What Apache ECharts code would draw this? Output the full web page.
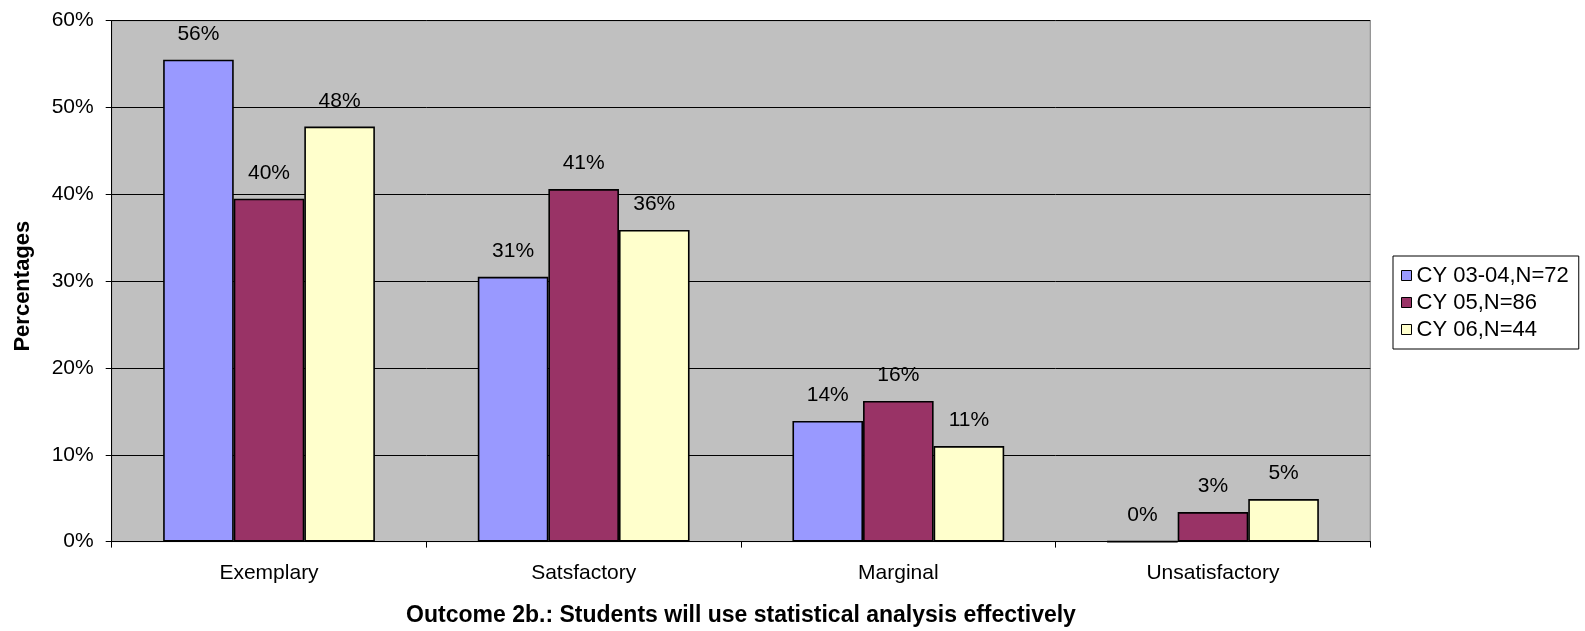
<!DOCTYPE html>
<html>
<head>
<meta charset="utf-8">
<script src="https://cdn.jsdelivr.net/npm/echarts@6/dist/echarts.min.js"></script>
<style>
  html, body { margin: 0; padding: 0; background: #ffffff; }
  #chart { width: 1585px; height: 631px; }
</style>
</head>
<body>
<div id="chart"></div>
<script>
// Rating categories along the x axis
const categories = ['Exemplary', 'Satsfactory', 'Marginal', 'Unsatisfactory'];

// Share of students (percent) in each rating, per cohort
const cohortNames = ['CY 03-04,N=72', 'CY 05,N=86', 'CY 06,N=44'];
const cy0304 = [55.5, 30.5, 13.9, 0];
const cy05 = [39.5, 40.6, 16.2, 3.4];
const cy06 = [47.8, 35.9, 11.0, 4.9];

// Y axis range and step (percent)
const yMin = 0;
const yMax = 60;
const yStep = 10;

const colors = ['#9999FF', '#993366', '#FFFFCC'];
const font = 'Arial, "Liberation Sans", sans-serif';

const chart = echarts.init(document.getElementById('chart'), null, { renderer: 'canvas' });

function makeSeries(name, values, color) {
  return {
    name: name,
    type: 'bar',
    data: values,
    barGap: '0%',
    barCategoryGap: '32.7%',
    itemStyle: { color: color, borderColor: '#000000', borderWidth: 1.6 },
    label: {
      show: true,
      position: 'top',
      distance: 15,
      color: '#000000',
      fontFamily: font,
      fontSize: 21,
      formatter: p => Math.round(p.value) + '%'
    },
    emphasis: { disabled: true }
  };
}

chart.setOption({
  animation: false,
  textStyle: { fontFamily: font },
  grid: {
    left: 111.7,
    right: 214.7,
    top: 20.7,
    bottom: 89.4,
    outerBoundsMode: 'none',
    containLabel: false,
    show: true,
    backgroundColor: '#C0C0C0',
    borderColor: '#808080',
    borderWidth: 1
  },
  legend: {
    orient: 'vertical',
    left: 1393,
    top: 256,
    data: cohortNames,
    icon: 'rect',
    itemWidth: 10,
    itemHeight: 10,
    itemGap: 5,
    padding: [8.5, 10, 8.5, 8],
    borderColor: '#000000',
    borderWidth: 1,
    backgroundColor: '#ffffff',
    selectedMode: false,
    itemStyle: { borderColor: '#000000', borderWidth: 1 },
    textStyle: { fontFamily: font, fontSize: 22, color: '#000000', lineHeight: 20 }
  },
  xAxis: {
    type: 'category',
    data: categories,
    name: 'Outcome 2b.: Students will use statistical analysis effectively',
    nameLocation: 'middle',
    nameGap: 63,
    nameTextStyle: { fontFamily: font, fontSize: 23, fontWeight: 'bold', color: '#000000' },
    axisLine: { lineStyle: { color: '#000000', width: 1 } },
    axisTick: { show: true, alignWithLabel: false, length: 6, lineStyle: { color: '#000000' } },
    axisLabel: { margin: 21, color: '#000000', fontFamily: font, fontSize: 21 },
    splitLine: { show: false }
  },
  yAxis: {
    type: 'value',
    min: yMin,
    max: yMax,
    interval: yStep,
    name: 'Percentages',
    nameLocation: 'middle',
    nameRotate: 90,
    nameGap: 78,
    nameTextStyle: { fontFamily: font, fontSize: 22, fontWeight: 'bold', color: '#000000', padding: [0, 10, 0, 0] },
    axisLine: { show: true, lineStyle: { color: '#000000', width: 1 } },
    axisTick: { show: true, length: 6, lineStyle: { color: '#000000' } },
    axisLabel: { margin: 18, color: '#000000', fontFamily: font, fontSize: 21, formatter: '{value}%' },
    splitLine: { show: true, lineStyle: { color: '#000000', width: 1 } }
  },
  series: [
    makeSeries(cohortNames[0], cy0304, colors[0]),
    makeSeries(cohortNames[1], cy05, colors[1]),
    makeSeries(cohortNames[2], cy06, colors[2])
  ]
});
</script>
</body>
</html>
